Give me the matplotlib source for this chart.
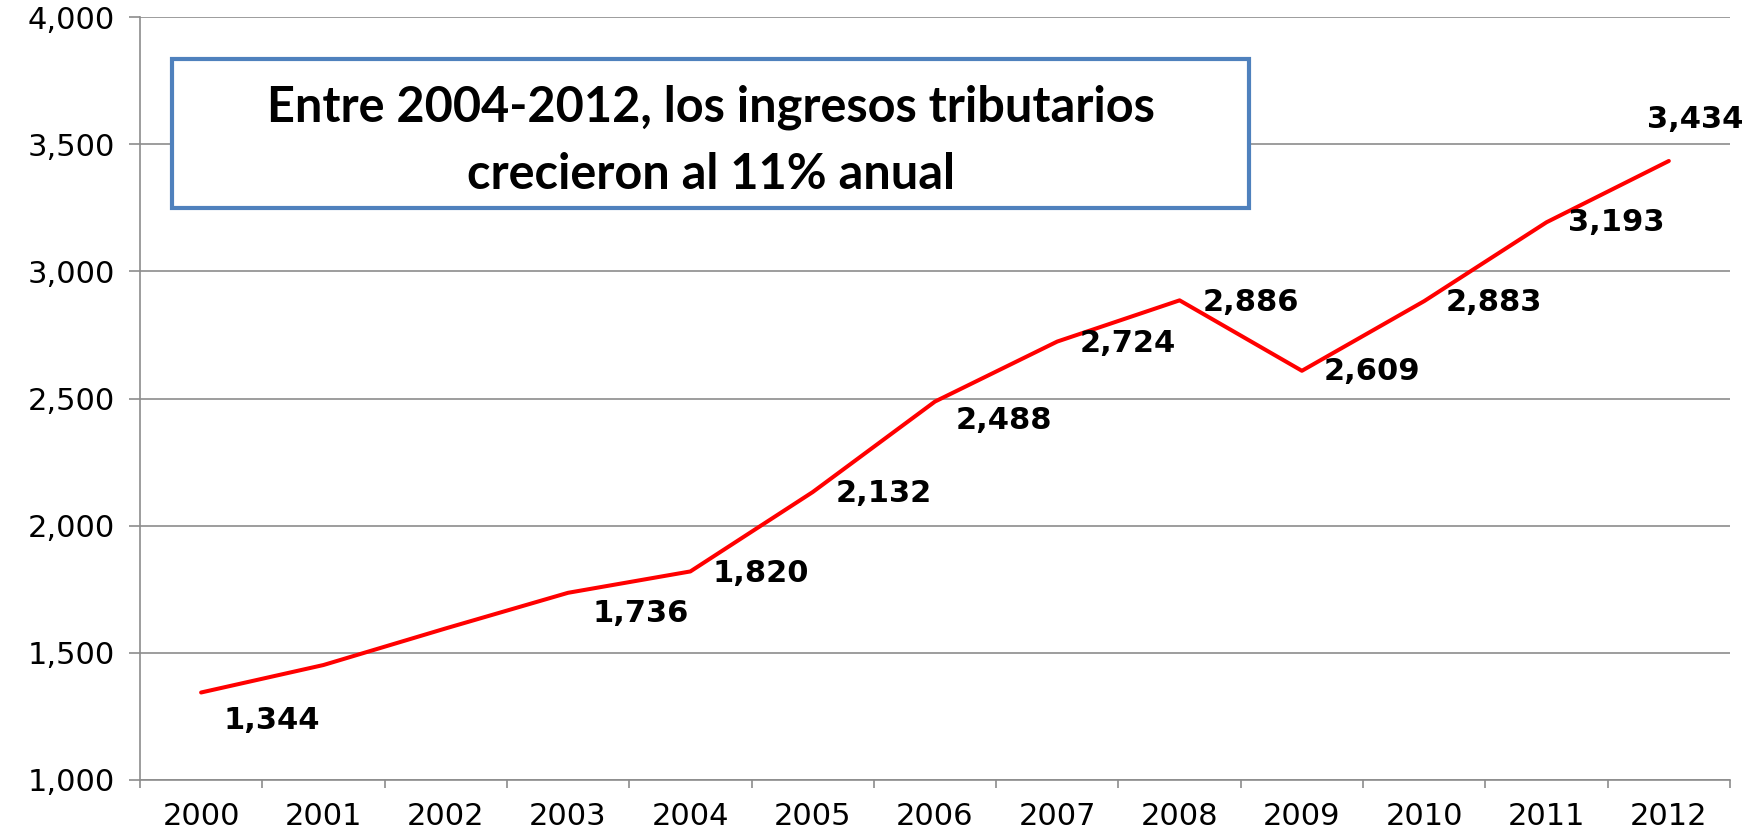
"""Ingresos tributarios 2000-2012 (line chart with annotation box)."""

import matplotlib

matplotlib.use("Agg")
import matplotlib.pyplot as plt
from matplotlib.patches import Rectangle
from matplotlib.ticker import FuncFormatter, MultipleLocator

YEARS = ["2000", "2001", "2002", "2003", "2004", "2005", "2006",
         "2007", "2008", "2009", "2010", "2011", "2012"]
VALUES = [1344, 1452, 1596, 1736, 1820, 2132, 2488,
          2724, 2886, 2609, 2883, 3193, 3434]
# which points carry a data label (2001 and 2002 have none)
LABELED = [True, False, False, True, True, True, True,
           True, True, True, True, True, True]
TITLE = "Entre 2004-2012, los ingresos tributarios\ncrecieron al 11% anual"

# label offsets from the point, in pixels (dx right, dy up)
LABEL_OFFSETS = [(71, -28), None, None, (73, -21), (70, -2), (71, -1),
                 (69, -19), (70, -2), (71, -2), (70, -1), (70, -1),
                 (70, 0), (26, 41)]

GRID = "#8c8c8c"

fig = plt.figure(figsize=(17.45, 8.31), dpi=100)
ax = fig.add_axes([0.0802, 0.0614, 0.9112, 0.9181])

x = list(range(len(YEARS)))
ax.plot(x, VALUES, color="#ff0000", lw=2.9, solid_capstyle="round", zorder=3)

for xi, v, show, off in zip(x, VALUES, LABELED, LABEL_OFFSETS):
    if not show:
        continue
    ax.annotate(f"{v:,}", (xi, v), xytext=off, textcoords="offset pixels",
                ha="center", va="center", fontsize=22, fontweight="bold",
                color="black", zorder=4)

ax.set_xlim(-0.5, len(YEARS) - 0.5)
ax.set_ylim(1000, 4000)
ax.yaxis.set_major_locator(MultipleLocator(500))
ax.yaxis.set_major_formatter(FuncFormatter(lambda v, _: f"{v:,.0f}"))
ax.set_xticks(x)
ax.set_xticklabels(YEARS)
ax.set_xticks([i - 0.5 for i in range(len(YEARS) + 1)], minor=True)

ax.grid(axis="y", color=GRID, lw=1.2)
ax.set_axisbelow(True)
for side in ("top", "right"):
    ax.spines[side].set_visible(False)
for side in ("left", "bottom"):
    ax.spines[side].set_color(GRID)
    ax.spines[side].set_linewidth(1.2)

ax.tick_params(axis="x", which="major", length=0, pad=16, labelsize=22)
ax.tick_params(axis="x", which="minor", length=6, color=GRID, width=1.2)
ax.tick_params(axis="y", length=8, color=GRID, width=1.2, pad=10, labelsize=22)

# annotation box
ax.add_patch(Rectangle((0.0204, 0.7497), 0.6771, 0.1953, transform=ax.transAxes,
                       facecolor="white", edgecolor="#4f81bd", lw=3, zorder=5))
ax.text(0.359, 0.838, TITLE, transform=ax.transAxes, ha="center", va="center",
        fontsize=35, fontweight="bold", family="Lato", linespacing=1.6,
        zorder=6)

fig.savefig("out.png", dpi=100)
